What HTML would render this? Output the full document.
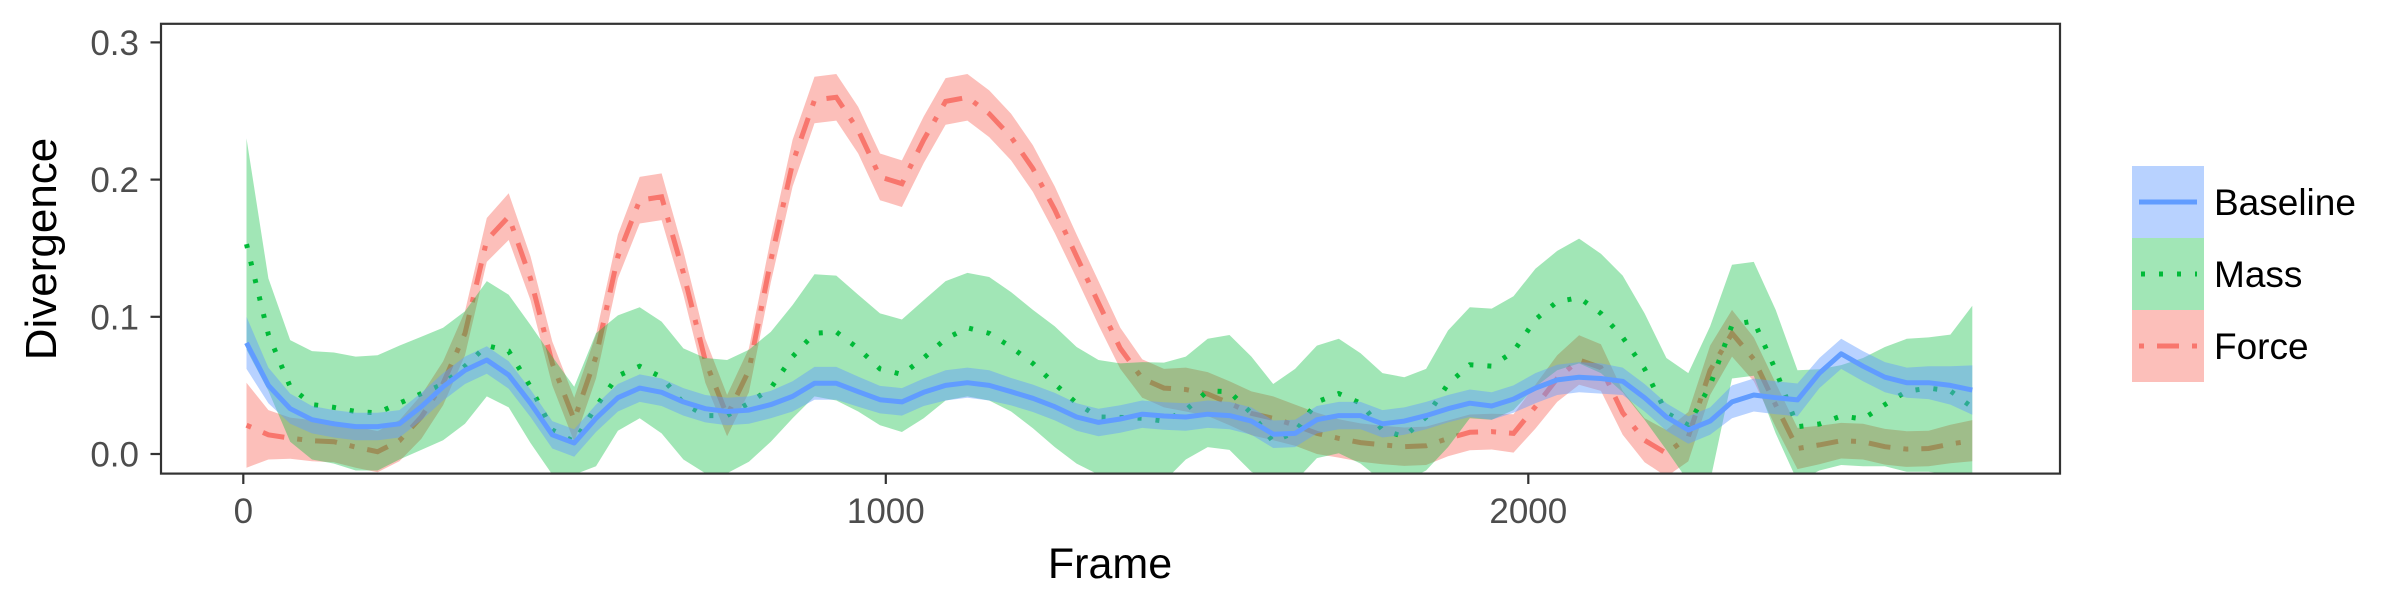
<!DOCTYPE html>
<html><head><meta charset="utf-8"><style>
html,body{margin:0;padding:0;background:#fff;}
svg{display:block;font-family:"Liberation Sans",Arial,sans-serif;}
</style></head><body>
<svg id="chart" width="2400" height="600" viewBox="0 0 2400 600" xmlns="http://www.w3.org/2000/svg">
<defs><clipPath id="pc"><rect x="161" y="23.8" width="1899" height="449.8"/></clipPath></defs>
<rect x="161" y="23.8" width="1899" height="449.8" fill="#fff"/>
<g id="marks" clip-path="url(#pc)"></g>
<rect x="161" y="23.8" width="1899" height="449.8" fill="none" stroke="#333" stroke-width="2.2"/>
<g id="axes"></g>
<text x="1110" y="578" font-size="43" text-anchor="middle" fill="#000">Frame</text>
<text transform="translate(56,249) rotate(-90)" font-size="44" text-anchor="middle" fill="#000">Divergence</text>
<g>
  <g>
    <rect x="2132" y="166" width="72" height="72" fill="#619CFF" fill-opacity="0.45"/>
    <line x1="2139" y1="202" x2="2197" y2="202" stroke="#619CFF" stroke-width="5"/>
    <text x="2214" y="215" font-size="37" fill="#000">Baseline</text>
  </g>
  <g>
    <rect x="2132" y="238" width="72" height="72" fill="#00BA38" fill-opacity="0.37"/>
    <line x1="2141" y1="274" x2="2197" y2="274" stroke="#00BA38" stroke-width="5" stroke-dasharray="4 14"/>
    <text x="2214" y="287" font-size="37" fill="#000">Mass</text>
  </g>
  <g>
    <rect x="2132" y="310" width="72" height="72" fill="#F8766D" fill-opacity="0.47"/>
    <line x1="2139" y1="346" x2="2197" y2="346" stroke="#F8766D" stroke-width="5" stroke-dasharray="5 13 22 13"/>
    <text x="2214" y="359" font-size="37" fill="#000">Force</text>
  </g>
</g>
</svg>
<script>
const frames=[5,39,73,107,141,175,209,243,277,311,345,379,413,447,481,515,549,583,617,651,685,719,753,787,821,855,889,923,957,991,1025,1059,1093,1127,1161,1195,1229,1263,1297,1331,1365,1399,1433,1467,1501,1535,1569,1603,1637,1671,1705,1739,1773,1807,1841,1875,1909,1943,1977,2011,2045,2079,2113,2147,2181,2215,2249,2283,2317,2351,2385,2419,2453,2487,2521,2555,2589,2623,2657,2691];
const baseMean=[.081,.050,.033,.025,.022,.020,.020,.022,.0345,.049,.061,.0685,.0576,.037,.014,.008,.026,.041,.048,.045,.038,.033,
.031,.032,.036,.042,.0515,.0515,.0454,.0396,.038,.045,.050,.052,.050,.0454,.0406,.0345,.027,.023,.0255,.029,.0277,
.027,.029,.028,.024,.0144,.015,.025,.028,.028,.022,.024,.028,.033,.037,.035,.040,.048,.054,.056,.055,.053,
.041,.027,.0175,.024,.038,.043,.041,.0394,.059,.073,.064,.056,.052,.052,.050,.0466];
const baseErr=[.019,.013,.011,.010,.010,.010,.010,.010,.010,.010,.010,.010,.010,.010,.010,.010,.010,.010,.010,.010,.010,.010,
.010,.010,.010,.011,.012,.012,.011,.010,.010,.010,.011,.011,.011,.010,.010,.010,.010,.010,.010,.010,.010,
.010,.010,.010,.010,.010,.010,.010,.010,.010,.010,.010,.010,.010,.010,.010,.010,.011,.011,.011,.011,.010,
.010,.010,.010,.010,.012,.012,.012,.012,.011,.011,.011,.011,.011,.012,.014,.018];
const massMean=[.153,.087,.049,.036,.034,.031,.030,.037,.044,.051,.064,.079,.075,.049,.0175,.009,.0345,.057,.064,.056,.037,.028,
.028,.037,.048,.071,.088,.089,.077,.062,.058,.070,.084,.092,.088,.078,.066,.051,.037,.027,.0267,.026,.024,
.032,.046,.0455,.0297,.009,.016,.038,.044,.037,.0175,.0126,.027,.051,.065,.064,.0746,.098,.111,.114,.1025,.085,
.062,.030,.021,.050,.094,.097,.061,.0199,.0219,.0277,.0255,.036,.0457,.048,.046,.034];
const massHi=[.230,.128,.083,.075,.074,.071,.072,.079,.0855,.092,.104,.126,.116,.094,.071,.049,.088,.101,.107,.0965,.077,.070,
.0685,.076,.089,.1086,.131,.130,.116,.1025,.098,.112,.126,.132,.129,.118,.105,.093,.078,.0685,.066,.067,.0666,
.071,.084,.0867,.071,.051,.062,.079,.084,.0734,.059,.056,.062,.090,.107,.106,.115,.135,.148,.157,.146,.130,
.1025,.070,.059,.093,.138,.140,.105,.061,.0617,.0648,.070,.078,.084,.085,.087,.108];
const massLo=[.076,.046,.009,-.004,-.007,-.012,-.012,-.004,.003,.010,.022,.042,.034,.008,-.015,-.015,-.009,.017,.026,.015,-.004,-.014,
-.014,-.0056,.009,.026,.042,.039,.031,.021,.016,.026,.039,.042,.039,.031,.0187,.005,-.007,-.015,-.02,-.02,-.02,
-.004,.005,.003,-.013,-.02,-.02,-.003,.0005,-.007,-.02,-.02,-.012,.005,.026,.025,.032,.049,.061,.066,.059,.045,
.025,.003,-.02,-.02,.055,.057,.015,-.02,-.012,-.008,-.009,-.009,-.013,-.013,-.015,-.02];
const forceMean=[.021,.014,.0115,.0097,.009,.005,.0017,.0097,.027,.0515,.088,.156,.173,.128,.066,.025,.071,.144,.185,.1875,.132,.068,
.028,.061,.141,.212,.258,.260,.236,.202,.197,.229,.257,.260,.248,.231,.208,.178,.144,.110,.077,.055,.048,
.047,.0437,.037,.0296,.026,.021,.015,.0114,.0083,.0066,.0053,.006,.0114,.0158,.0163,.015,.0345,.055,.0685,.063,.030,
.010,.0005,.0126,.061,.088,.069,.0357,.004,.0066,.0097,.009,.0053,.0036,.004,.0073,.0097];
const forceErr=[.031,.018,.015,.015,.015,.015,.015,.015,.016,.016,.016,.016,.017,.016,.016,.016,.016,.016,.017,.017,.016,.016,
.015,.016,.016,.017,.017,.017,.017,.017,.017,.017,.017,.017,.017,.017,.017,.017,.016,.016,.015,.014,.014,
.016,.016,.016,.016,.016,.015,.015,.014,.014,.014,.014,.014,.013,.013,.013,.014,.016,.017,.018,.017,.016,
.016,.017,.018,.018,.017,.016,.016,.015,.014,.013,.013,.013,.013,.013,.014,.015];
const xTicks=[0,1000,2000];
const yTicks=[0,0.1,0.2,0.3];
const yTickLabels=["0.0","0.1","0.2","0.3"];

const X=f=>243.3+f*0.6425;
const Y=v=>454-v*1372;
const NS="http://www.w3.org/2000/svg";
const marks=document.getElementById('marks');
const axes=document.getElementById('axes');
function mk(tag,attrs,parent){const e=document.createElementNS(NS,tag);for(const k in attrs)e.setAttribute(k,attrs[k]);parent.appendChild(e);return e;}
function linePts(m){return frames.map((f,i)=>X(f).toFixed(1)+','+Y(m[i]).toFixed(1)).join(' ');}
function bandPts(lo,hi){const a=frames.map((f,i)=>X(f).toFixed(1)+','+Y(hi[i]).toFixed(1));const b=frames.map((f,i)=>X(f).toFixed(1)+','+Y(lo[i]).toFixed(1)).reverse();return a.concat(b).join(' ');}
const baseLo=baseMean.map((v,i)=>v-baseErr[i]), baseHi=baseMean.map((v,i)=>v+baseErr[i]);
const forceLo=forceMean.map((v,i)=>v-forceErr[i]), forceHi=forceMean.map((v,i)=>v+forceErr[i]);

let el;
el=mk('polygon',{points:bandPts(forceLo,forceHi),fill:'#F8766D','fill-opacity':0.47},marks);


el=mk('polyline',{points:linePts(forceMean),fill:'none',stroke:'#F8766D','stroke-width':5,'stroke-dasharray':'5 13 22 13'},marks);


el=mk('polygon',{points:bandPts(massLo,massHi),fill:'#00BA38','fill-opacity':0.37},marks);


el=mk('polyline',{points:linePts(massMean),fill:'none',stroke:'#00BA38','stroke-width':5,'stroke-dasharray':'4 14'},marks);


el=mk('polygon',{points:bandPts(baseLo,baseHi),fill:'#619CFF','fill-opacity':0.45},marks);


el=mk('polyline',{points:linePts(baseMean),fill:'none',stroke:'#619CFF','stroke-width':5,'stroke-linejoin':'round'},marks);



xTicks.forEach(t=>{
  el=mk('line',{x1:X(t),x2:X(t),y1:473.6,y2:484,stroke:'#333','stroke-width':2.2},axes);
  
  
  el=mk('text',{x:X(t),y:523,'font-size':35,'text-anchor':'middle',fill:'#4D4D4D'},axes);
  el.textContent=String(t);
  
  
});
yTicks.forEach((t,i)=>{
  el=mk('line',{x1:150.5,x2:161,y1:Y(t),y2:Y(t),stroke:'#333','stroke-width':2.2},axes);
  
  
  el=mk('text',{x:139,y:Y(t)+12.5,'font-size':35,'text-anchor':'end',fill:'#4D4D4D'},axes);
  el.textContent=yTickLabels[i];
  
  
});
</script>
</body></html>
